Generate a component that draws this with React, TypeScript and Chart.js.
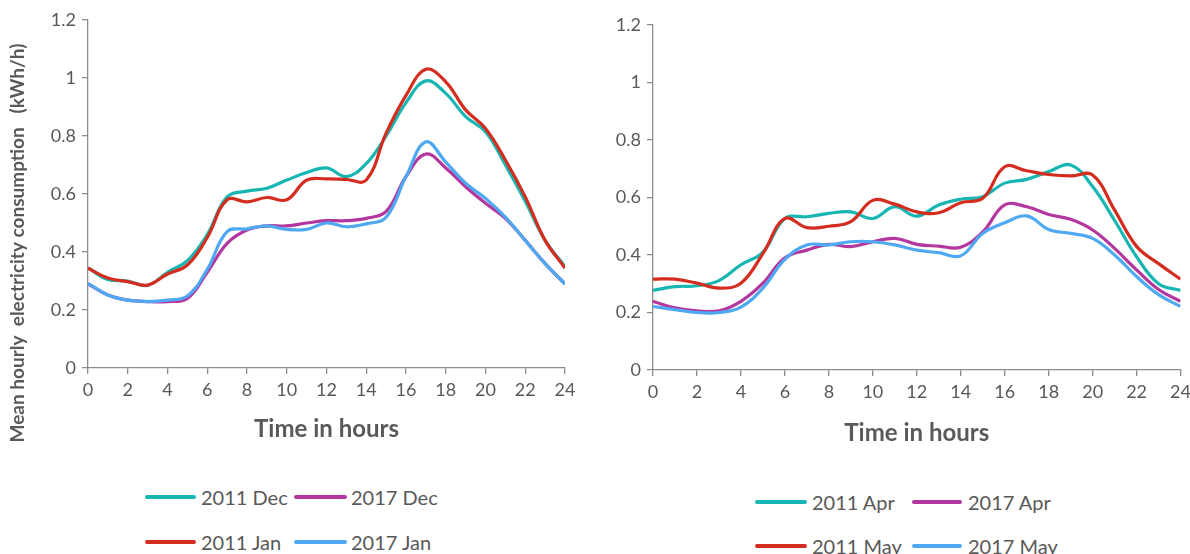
import React, { useEffect, useRef } from "react";
import { Chart, registerables } from "chart.js";

Chart.register(...registerables);

// ---------- data ----------
const hours = [0, 1, 2, 3, 4, 5, 6, 7, 8, 9, 10, 11, 12, 13, 14, 15, 16, 17, 18, 19, 20, 21, 22, 23, 24];

const dec2011 = [0.345, 0.305, 0.3, 0.285, 0.33, 0.37, 0.46, 0.59, 0.61, 0.62, 0.648, 0.674, 0.69, 0.66, 0.705, 0.8, 0.915, 0.99, 0.947, 0.867, 0.815, 0.7, 0.575, 0.44, 0.35];
const dec2017 = [0.29, 0.252, 0.234, 0.229, 0.229, 0.24, 0.33, 0.43, 0.476, 0.49, 0.49, 0.5, 0.508, 0.508, 0.516, 0.54, 0.66, 0.738, 0.69, 0.625, 0.568, 0.516, 0.44, 0.36, 0.29];
const jan2011 = [0.344, 0.31, 0.298, 0.286, 0.324, 0.355, 0.45, 0.58, 0.573, 0.588, 0.58, 0.648, 0.652, 0.65, 0.648, 0.81, 0.94, 1.03, 0.987, 0.89, 0.826, 0.717, 0.59, 0.44, 0.345];
const jan2017 = [0.292, 0.252, 0.234, 0.229, 0.234, 0.248, 0.34, 0.47, 0.48, 0.49, 0.478, 0.478, 0.5, 0.487, 0.497, 0.52, 0.66, 0.78, 0.71, 0.637, 0.585, 0.52, 0.44, 0.36, 0.29];

const apr2011 = [0.277, 0.29, 0.293, 0.311, 0.366, 0.41, 0.527, 0.533, 0.545, 0.55, 0.527, 0.568, 0.535, 0.574, 0.594, 0.603, 0.65, 0.663, 0.69, 0.713, 0.638, 0.52, 0.394, 0.3, 0.277];
const apr2017 = [0.239, 0.216, 0.206, 0.206, 0.239, 0.302, 0.39, 0.417, 0.437, 0.429, 0.446, 0.458, 0.437, 0.431, 0.427, 0.48, 0.574, 0.568, 0.541, 0.524, 0.487, 0.423, 0.348, 0.28, 0.239];
const may2011 = [0.316, 0.316, 0.302, 0.285, 0.302, 0.405, 0.527, 0.495, 0.5, 0.516, 0.59, 0.577, 0.55, 0.547, 0.582, 0.597, 0.707, 0.693, 0.68, 0.675, 0.678, 0.556, 0.43, 0.37, 0.316];
const may2017 = [0.221, 0.21, 0.2, 0.2, 0.219, 0.285, 0.385, 0.435, 0.435, 0.446, 0.446, 0.435, 0.417, 0.408, 0.397, 0.475, 0.512, 0.536, 0.489, 0.475, 0.458, 0.4, 0.325, 0.262, 0.221];

const leftLabels = ["2011 Dec", "2017 Dec", "2011 Jan", "2017 Jan"];
const rightLabels = ["2011 Apr", "2017 Apr", "2011 May", "2017 May"];

const yTickValues = [0, 0.2, 0.4, 0.6, 0.8, 1, 1.2];
const xTickValues = [0, 2, 4, 6, 8, 10, 12, 14, 16, 18, 20, 22, 24];

const xTitle = "Time in hours";
const yTitle = "Mean hourly  electricity consumption   (kWh/h)";

// ---------- styles ----------
const SERIES_COLORS = ["#17B6B3", "#B3379E", "#D42D1F", "#4EA8F2"];
const SERIES_ORDER = [4, 3, 2, 1];
const FONT = "Lato, 'Open Sans', sans-serif";
const TEXT = "#595959";
const AXIS = "#8C8C8C";

const yTitlePlugin = {
  id: "yTitleRot",
  afterDraw(chart: any, _args: any, opts: any) {
    if (!opts || !opts.text) return;
    const ctx = chart.ctx;
    ctx.save();
    ctx.translate(opts.x, opts.y);
    ctx.rotate(-Math.PI / 2);
    ctx.font = `bold ${opts.size}px ${FONT}`;
    ctx.fillStyle = TEXT;
    ctx.textAlign = "center";
    ctx.textBaseline = "middle";
    ctx.fillText(opts.text, 0, 0);
    ctx.restore();
  },
};

type PanelProps = {
  left: number;
  width: number;
  height: number;
  padTop: number;
  padRight: number;
  yAxisWidth: number;
  xAxisHeight: number;
  xTitlePadBottom: number;
  labels: string[];
  series: number[][];
  showYTitle: boolean;
  legendRows: number[];
  legendLine: number[][];
  legendText: number[];
};

function Panel(p: PanelProps) {
  const ref = useRef<HTMLCanvasElement | null>(null);

  useEffect(() => {
    if (!ref.current) return;
    const chart = new Chart(ref.current, {
      type: "line",
      data: {
        labels: hours,
        datasets: p.series.map((vals, i) => ({
          label: p.labels[i],
          data: vals.map((v, j) => ({ x: hours[j], y: v })),
          borderColor: SERIES_COLORS[i],
          backgroundColor: SERIES_COLORS[i],
          borderWidth: 3.2,
          pointRadius: 0,
          tension: 0.4,
          fill: false,
          order: SERIES_ORDER[i],
        })),
      },
      options: {
        responsive: false,
        animation: false,
        layout: { padding: { top: p.padTop, right: p.padRight, left: 0, bottom: 0 } },
        plugins: {
          legend: { display: false },
          tooltip: { enabled: false },
          yTitleRot: p.showYTitle ? { text: yTitle, x: 18, y: 243, size: 19 } : {},
        } as any,
        scales: {
          x: {
            type: "linear",
            min: 0,
            max: 24,
            afterBuildTicks: (s: any) => {
              s.ticks = xTickValues.map((v) => ({ value: v }));
            },
            afterFit: (s: any) => {
              s.height = p.xAxisHeight;
            },
            ticks: {
              color: TEXT,
              font: { family: FONT, size: 18 },
              padding: 5,
              maxRotation: 0,
              autoSkip: false,
              callback: (v: any) => String(v),
            },
            grid: { display: true, drawOnChartArea: false, drawTicks: true, tickLength: 6, color: AXIS, lineWidth: 1.3 },
            border: { display: true, color: AXIS, width: 1.3 },
            title: {
              display: true,
              text: xTitle,
              color: TEXT,
              font: { family: FONT, size: 24, weight: "bold" },
              padding: { top: 0, bottom: p.xTitlePadBottom },
            },
          },
          y: {
            type: "linear",
            min: 0,
            max: 1.2,
            afterBuildTicks: (s: any) => {
              s.ticks = yTickValues.map((v) => ({ value: v }));
            },
            afterFit: (s: any) => {
              s.width = p.yAxisWidth;
            },
            ticks: {
              color: TEXT,
              font: { family: FONT, size: 18 },
              padding: 6,
              callback: (v: any) => String(Math.round(Number(v) * 10) / 10),
            },
            grid: { display: true, drawOnChartArea: false, drawTicks: true, tickLength: 6, color: AXIS, lineWidth: 1.3 },
            border: { display: true, color: AXIS, width: 1.3 },
          },
        },
      },
      plugins: [yTitlePlugin],
    } as any);
    return () => chart.destroy();
  }, []);

  return (
    <div style={{ position: "absolute", left: p.left, top: 0, width: p.width, height: 554 }}>
      <canvas ref={ref} width={p.width} height={p.height} style={{ width: p.width, height: p.height, display: "block" }} />
      {p.labels.map((lab, i) => {
        const row = p.legendRows[Math.floor(i / 2)];
        const col = i % 2;
        const [x0, x1] = p.legendLine[col];
        return (
          <React.Fragment key={lab}>
            <div
              style={{
                position: "absolute",
                left: x0,
                top: row - 1.6,
                width: x1 - x0,
                height: 3.2,
                borderRadius: 2,
                background: SERIES_COLORS[i],
              }}
            />
            <div
              style={{
                position: "absolute",
                left: p.legendText[col],
                top: row - 13,
                height: 26,
                lineHeight: "26px",
                fontFamily: FONT,
                fontSize: 20,
                color: TEXT,
                whiteSpace: "nowrap",
              }}
            >
              {lab}
            </div>
          </React.Fragment>
        );
      })}
    </div>
  );
}

export default function App() {
  return (
    <div style={{ position: "absolute", left: 0, top: 0, width: 1190, height: 554, background: "#ffffff", overflow: "hidden" }}>
      <Panel
        left={0}
        width={595}
        height={460}
        padTop={20}
        padRight={30}
        yAxisWidth={88}
        xAxisHeight={92}
        xTitlePadBottom={16}
        labels={leftLabels}
        series={[dec2011, dec2017, jan2011, jan2017]}
        showYTitle={true}
        legendRows={[497, 542]}
        legendLine={[[145, 196], [294, 347]]}
        legendText={[201, 351]}
      />
      <Panel
        left={595}
        width={601}
        height={460}
        padTop={25}
        padRight={0}
        yAxisWidth={58}
        xAxisHeight={90}
        xTitlePadBottom={12}
        labels={rightLabels}
        series={[apr2011, apr2017, may2011, may2017]}
        showYTitle={false}
        legendRows={[502, 546]}
        legendLine={[[160, 212], [317, 367]]}
        legendText={[217, 373]}
      />
    </div>
  );
}
